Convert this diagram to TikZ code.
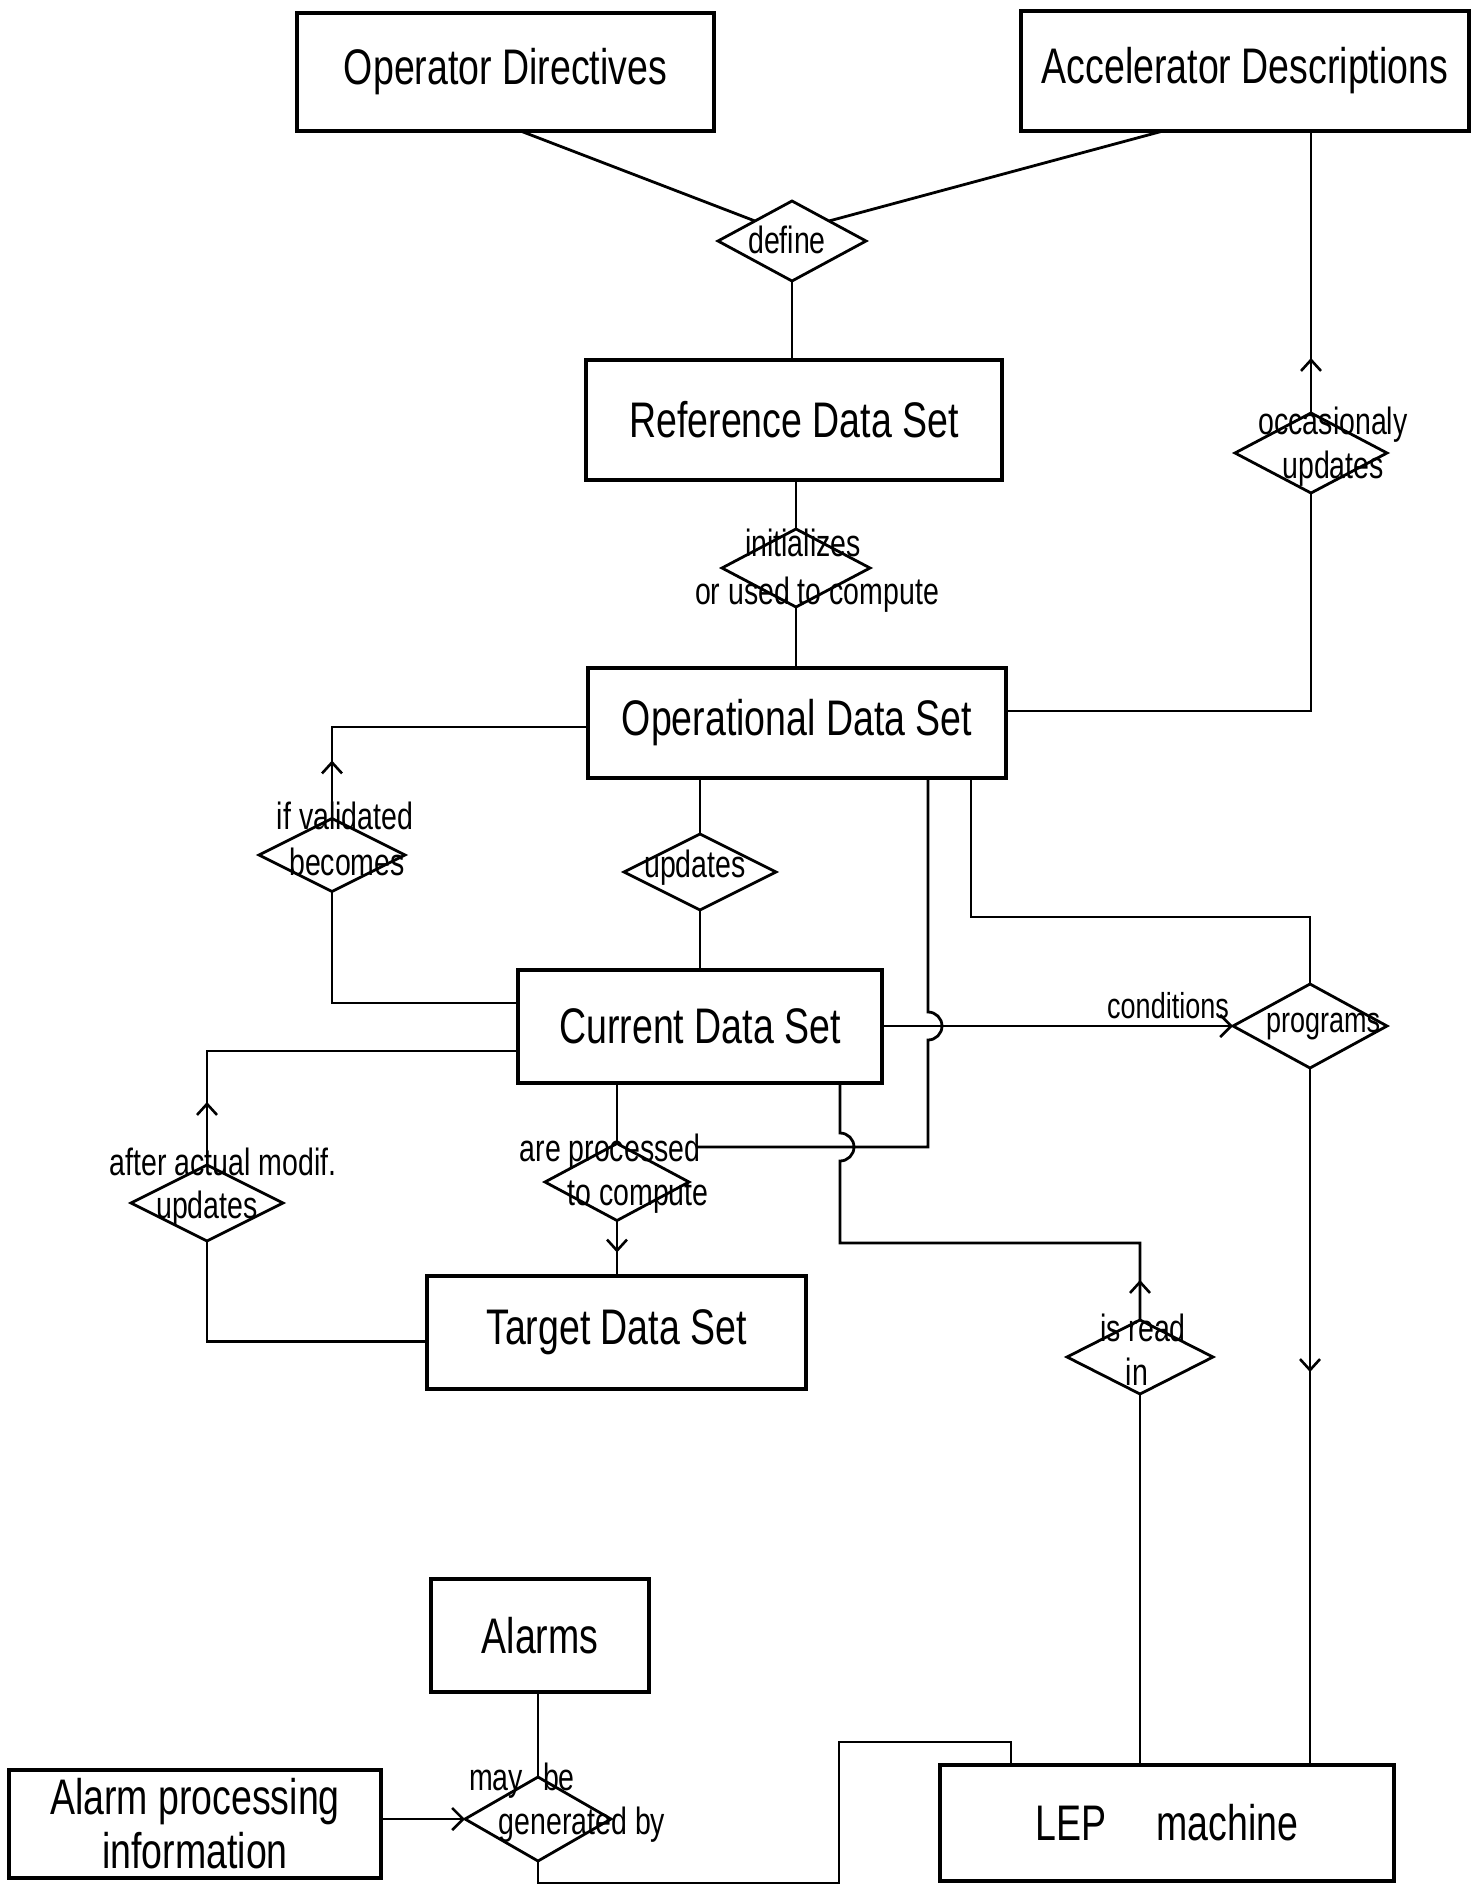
\documentclass[tikz,border=0pt]{standalone}
\usepackage{fontspec}
\setmainfont{Liberation Sans}[FakeStretch=0.75]
\usetikzlibrary{shapes.geometric,arrows.meta,decorations.markings}
\begin{document}
\begin{tikzpicture}[x=1pt,y=-1pt,
  box/.style={draw, line width=3.4pt, rectangle, inner sep=0pt, outer sep=0pt, font=\fontsize{50}{54}\selectfont, align=center},
  dia/.style={draw, line width=2.8pt, diamond, inner sep=0pt, outer sep=0pt},
  lbl/.style={inner sep=0pt, font=\fontsize{38}{42}\selectfont},
  smalllbl/.style={inner sep=0pt, font=\fontsize{36}{40}\selectfont},
  conn/.style={line width=2.8pt},
  tip/.style={-{Straight Barb[length=11pt,width=22pt,line width=2.6pt]}},
  midarrow/.style={postaction={decorate}, decoration={markings, mark=at position #1 with {\arrow{Straight Barb[length=11pt,width=20pt,line width=2.6pt]}}}}
]
\fill[white] (0,0) rectangle (1471,1886);
\useasboundingbox (0,0) rectangle (1471,1886);

% boxes
\node[box, minimum width=417pt, minimum height=118pt] (OD) at (505.5,72) {Operator Directives};
\node[box, minimum width=448pt, minimum height=120pt] (AD) at (1245,71) {Accelerator Descriptions};
\node[box, minimum width=416pt, minimum height=120pt] (RDS) at (794,420) {Reference Data Set};
\node[box, minimum width=418pt, minimum height=110pt] (ODS) at (797,723) {Operational Data Set};
\node[box, minimum width=364pt, minimum height=113pt] (CDS) at (700,1026.5) {Current Data Set};
\node[box, minimum width=379pt, minimum height=113pt] (Target) at (616.5,1332.5) {Target Data Set};
\node[box, minimum width=218pt, minimum height=113pt] (Alarms) at (540,1635.5) {Alarms};
\node[box, minimum width=372pt, minimum height=108pt] (API) at (195,1824) {Alarm processing\\information};
\node[box, minimum width=454pt, minimum height=116pt] (LEP) at (1167,1823) {LEP\hspace{50pt}machine};

% diamonds
\node[dia, minimum width=148pt, minimum height=80pt] (define) at (792,241) {};
\node[dia, minimum width=148pt, minimum height=78pt] (init) at (796,568) {};
\node[dia, minimum width=152pt, minimum height=80pt] (occ) at (1311,453) {};
\node[dia, minimum width=146pt, minimum height=73pt] (becomes) at (332,855) {};
\node[dia, minimum width=152pt, minimum height=76pt] (updA) at (700,872) {};
\node[dia, minimum width=152pt, minimum height=76pt] (after) at (207,1203) {};
\node[dia, minimum width=144pt, minimum height=77pt] (proc) at (617,1182) {};
\node[dia, minimum width=154pt, minimum height=84pt] (prog) at (1310,1026) {};
\node[dia, minimum width=146pt, minimum height=74pt] (readin) at (1140,1357) {};
\node[dia, minimum width=146pt, minimum height=84pt] (gen) at (538,1819) {};

% labels
\node[lbl] (tdefine) at (787,240) {define};
\node[lbl] (tinit1) at (803,543) {initializes};
\node[lbl] (tinit2) at (817,595) {or used to compute};
\node[lbl] (tocc1) at (1333,425) {occasionaly};
\node[lbl] (tocc2) at (1333,469) {updates};
\node[lbl] (tbec1) at (345,816) {if validated};
\node[lbl] (tbec2) at (347,862) {becomes};
\node[lbl] (tupdA) at (695,868) {updates};
\node[smalllbl] (tcond) at (1168,1006) {conditions};
\node[smalllbl] (tprog) at (1323,1027) {programs};
\node[lbl] (tproc1) at (610,1152) {are processed};
\node[lbl] (tproc2) at (638,1197) {to compute};
\node[lbl] (tafter1) at (223,1162) {after actual modif.};
\node[lbl] (tafter2) at (207,1209) {updates};
\node[lbl] (tread1) at (1143,1328) {is read};
\node[lbl] (tread2) at (1137,1372) {in};
\node[lbl] (tgen1) at (522,1781) {may\hspace{20pt}be};
\node[lbl] (tgen2) at (582,1825) {generated by};

% waypoints
\coordinate (pjoin) at (697,1147);
\coordinate (jtop) at (928,1012);
\coordinate (rcorner) at (840,1243);
\coordinate (rjump) at (840,1161);
\coordinate (pc) at (971,917);
\coordinate (g1) at (538,1883);
\coordinate (g2) at (839,1883);
\coordinate (g3) at (839,1742);

% connectors
\draw[conn] ([xshift=15pt]OD.south) -- (define.north west);
\draw[conn] ([xshift=-82pt]AD.south) -- (define.north east);
\draw[conn] (define.south) -- (define.south |- RDS.north);
\draw[conn] (init.north |- RDS.south) -- (init.north);
\draw[conn] (init.south) -- (init.south |- ODS.north);
\draw[conn, midarrow=55pt] (occ.north) -- (occ.north |- AD.south);
\draw[conn] ([yshift=12pt]ODS.east) -| (occ.south);
\draw[conn, midarrow=58pt] (becomes.north) |- ([yshift=-4pt]ODS.west);
\draw[conn] (becomes.south) |- ([yshift=23.5pt]CDS.west);
\draw[conn] (updA.north |- ODS.south) -- (updA.north);
\draw[conn] (updA.south) -- (updA.south |- CDS.north);
\draw[conn, midarrow=63pt] (after.north) |- ([yshift=-24.5pt]CDS.west);
\draw[conn] (after.south) |- ([yshift=-9pt]Target.west);
\draw[conn] (proc.north |- CDS.south) -- (proc.north);
\draw[conn, midarrow=32pt] (proc.south) -- (proc.south |- Target.north);
\draw[conn] ([xshift=131pt]ODS.south) -- (jtop) arc[start angle=90, end angle=-90, radius=14pt] |- (pjoin);
\draw[conn, midarrow=40pt] (readin.north) |- (rcorner) -- (rjump) arc[start angle=-90, end angle=90, radius=14pt] -- ([xshift=140pt]CDS.south);
\draw[conn, tip] (CDS.east |- prog.west) -- (prog.west);
\draw[conn] ([xshift=174pt]ODS.south) -- (pc) -| (prog.north);
\draw[conn, midarrow=304pt] (prog.south) -- (prog.south |- LEP.north);
\draw[conn] (readin.south) -- (readin.south |- LEP.north);
\draw[conn] (gen.north |- Alarms.south) -- (gen.north);
\draw[conn, tip] (API.east |- gen.west) -- (gen.west);
\draw[conn] (gen.south) -- (g1) -- (g2) -- (g3) -| ([xshift=-156pt]LEP.north);
\end{tikzpicture}
\end{document}
